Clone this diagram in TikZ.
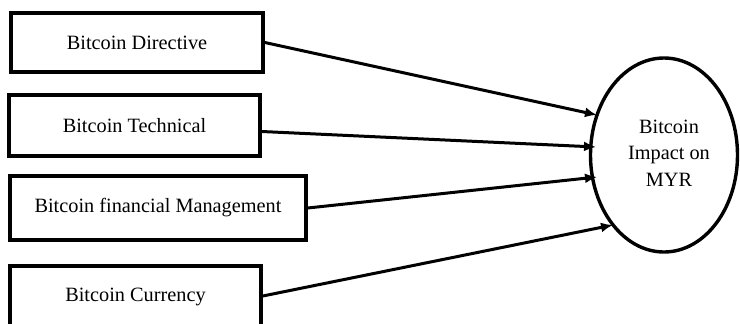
\documentclass[tikz,border=0pt]{standalone}
\usepackage{fontspec}
\setmainfont{Liberation Serif}
\usetikzlibrary{arrows.meta,shapes.geometric}
\begin{document}
\begin{tikzpicture}[x=1pt,y=-1pt,
  box/.style={draw,line width=3.6pt,inner sep=0pt,font=\fontsize{20.3}{24}\selectfont},
  conn/.style={line width=3pt,-{Latex[length=12pt,width=10pt]}}]
\useasboundingbox (0,0) rectangle (740,324);
\clip (0,0) rectangle (740,324);
\node[box,minimum width=252pt,minimum height=59pt] (b1) at (137,42.5) {Bitcoin Directive};
\node[box,minimum width=251pt,minimum height=61pt] (b2) at (134.5,125.5) {Bitcoin Technical};
\node[box,minimum width=296pt,minimum height=64pt] (b3) at (158,208) {Bitcoin financial Management};
\node[box,minimum width=251pt,minimum height=62pt] (b4) at (135.5,297) {Bitcoin Currency};
\node[draw,ellipse,line width=3.4pt,minimum width=147pt,minimum height=194pt,inner sep=0pt] (e) at (664,155) {};
\node[align=center,font=\fontsize{20.3}{26.5}\selectfont] (et) at (669,153) {Bitcoin\\Impact on\\MYR};
\coordinate (t1) at (597,115);
\coordinate (t2) at (596,147);
\coordinate (t3) at (597,177);
\coordinate (t4) at (613,225);
\draw[conn] (b1.east) -- (t1);
\draw[conn] ([yshift=-6pt]b2.east) -- (t2);
\draw[conn] (b3.east) -- (t3);
\draw[conn] ([yshift=1pt]b4.east) -- (t4);
\end{tikzpicture}
\end{document}
